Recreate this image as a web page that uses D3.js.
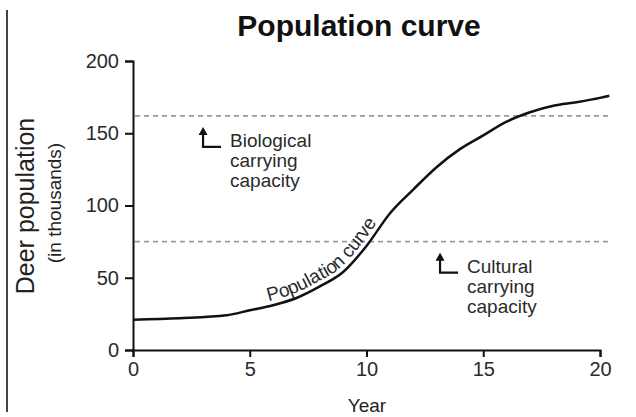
<!DOCTYPE html>
<html>
<head>
<meta charset="utf-8">
<script src="https://cdn.jsdelivr.net/npm/d3@7"></script>
<style>
	body { margin: 0; background: #fff; }
	svg { font-family: "Liberation Sans", Arial, sans-serif; }
	.axis path, .axis line { stroke: #111; stroke-width: 2px; }
	.axis text { font-size: 20px; fill: #2b2b2b; }
	.cap { stroke: #9a9a9a; stroke-width: 1.6px; stroke-dasharray: 5,4; }
	.note { font-size: 19px; fill: #2b2b2b; }
</style>
</head>
<body>
<svg width="636" height="417"></svg>
<script>
// data
var years = [0, 2, 4, 5, 6, 7, 8, 9, 10, 11, 12, 13, 14, 15, 16, 17, 18, 19, 20, 20.4];
var deer = [21, 22, 24, 27.5, 31, 36, 44, 54, 72, 94.5, 111, 126.5, 139, 148.5, 158, 164.5, 169, 171.5, 174.5, 176];
var xTicks = [0, 5, 10, 15, 20];
var yTicks = [0, 50, 100, 150, 200];
var capNames = ["Biological", "Cultural"];
var capValues = [162, 75];
var capArrowYear = [3.0, 13.15];

var svg = d3.select("svg"),
	margin = {top:61, right:36, bottom:67, left:133},
	width = svg.attr("width") - margin.left - margin.right,
	height = svg.attr("height") - margin.top - margin.bottom;

// the thin frame line on the left edge of the source picture
svg.append("line")
	.attr("x1", 7).attr("x2", 7)
	.attr("y1", 10).attr("y2", 412)
	.attr("stroke", "#444")
	.attr("stroke-width", 2);

svg.append("text")
	.text("Population curve")
	.attr("x", 359)
	.attr("y", 36)
	.attr("text-anchor", "middle")
	.style("font-size", "30px")
	.style("font-weight", "bold")
	.style("fill", "#111");

var g = svg.append("g")
	.attr("transform", "translate(" + margin.left + "," + margin.top + ")");

var x = d3.scaleLinear().domain([0, 20]).range([0, width]);
var y = d3.scaleLinear().domain([0, 200]).range([height, 0]);

// dashed carrying capacity lines
g.selectAll(".cap")
	.data(capValues)
	.enter().append("line")
		.attr("class", "cap")
		.attr("x1", x(0) + 2)
		.attr("x2", x(20.4))
		.attr("y1", function(d) { return y(d); })
		.attr("y2", function(d) { return y(d); });

// axes
g.append("g")
	.attr("class", "axis")
	.attr("transform", "translate(0," + height + ")")
	.call(d3.axisBottom(x).tickValues(xTicks).tickSize(7).tickPadding(5));

g.append("g")
	.attr("class", "axis")
	.call(d3.axisLeft(y).tickValues(yTicks).tickSize(8).tickPadding(6));

// population curve
var line = d3.line()
	.x(function(d) { return x(d[0]); })
	.y(function(d) { return y(d[1]); })
	.curve(d3.curveMonotoneX);

var curve = g.append("path")
	.datum(d3.zip(years, deer))
	.attr("id", "popCurve")
	.attr("d", line)
	.attr("fill", "none")
	.attr("stroke", "#111")
	.attr("stroke-width", 2.5);

// find where along the path the label starts
var node = curve.node(),
	total = node.getTotalLength(),
	startAt = 0;
for (var s = 0; s < total; s++) {
	if (node.getPointAtLength(s).x >= x(5.85)) { startAt = s; break; }
}

g.append("text")
	.attr("class", "note")
	.attr("dy", -5)
	.append("textPath")
		.attr("href", "#popCurve")
		.attr("startOffset", startAt)
		.text("Population curve");

// carrying capacity notes with bent arrows
capNames.forEach(function(name, i) {
	var ax = x(capArrowYear[i]),
		top = y(capValues[i]) + 12,
		bottom = top + 19;

	g.append("path")
		.attr("d", "M" + ax + "," + (top + 4) + " V" + bottom + " H" + (ax + 18))
		.attr("fill", "none")
		.attr("stroke", "#111")
		.attr("stroke-width", 2.2);

	g.append("path")
		.attr("d", "M" + (ax - 4.5) + "," + (top + 7) + " L" + ax + "," + (top - 1) + " L" + (ax + 4.5) + "," + (top + 7) + "Z")
		.attr("fill", "#111");

	var t = g.append("text")
		.attr("class", "note")
		.attr("x", ax + 27)
		.attr("y", bottom);
	[name, "carrying", "capacity"].forEach(function(w, j) {
		t.append("tspan")
			.attr("x", ax + 27)
			.attr("dy", j === 0 ? 0 : 20)
			.text(w);
	});
});

// axis titles
svg.append("text")
	.text("Deer population")
	.attr("transform", "translate(34,206) rotate(-90)")
	.attr("text-anchor", "middle")
	.style("font-size", "25px")
	.style("fill", "#222");

svg.append("text")
	.text("(in thousands)")
	.attr("transform", "translate(61,203) rotate(-90)")
	.attr("text-anchor", "middle")
	.style("font-size", "19px")
	.style("fill", "#222");

svg.append("text")
	.text("Year")
	.attr("x", 367)
	.attr("y", 412)
	.attr("text-anchor", "middle")
	.style("font-size", "19px")
	.style("fill", "#222");
</script>
</body>
</html>
